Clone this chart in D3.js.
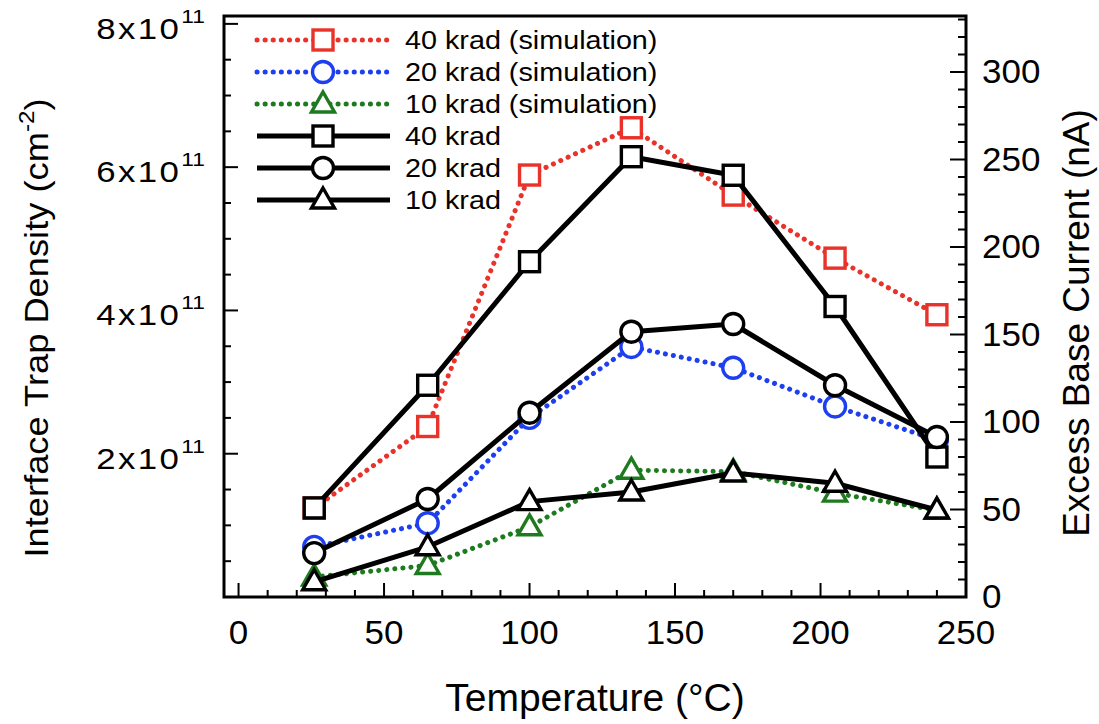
<!DOCTYPE html>
<html>
<head>
<meta charset="utf-8">
<script src="https://cdn.jsdelivr.net/npm/d3@7"></script>
<style>
  html, body { margin: 0; padding: 0; background: #fff; }
  svg { display: block; }
  text { font-family: "Liberation Sans", Arial, Helvetica, sans-serif; fill: #000; }
</style>
</head>
<body>
<svg id="chart" width="1099" height="724"></svg>
<script>
// ---- data ----
const temperature = [26, 65, 100, 135, 170, 205, 240];
// simulation: interface trap density (units of 1e11 cm^-2), left axis
const sim40 = [1.24, 2.38, 5.89, 6.55, 5.61, 4.73, 3.94];
const sim20 = [0.70, 1.03, 2.50, 3.49, 3.20, 2.66, 2.19];
const sim10 = [0.28, 0.44, 0.98, 1.77, 1.75, 1.45, 1.21];
// measured: excess base current (nA), right axis
const meas40 = [50.9, 121, 191.6, 251.6, 241, 166, 80];
const meas20 = [25.1, 56, 105.3, 151.6, 156, 121, 91.4];
const meas10 = [8.7, 28.7, 54.5, 60, 70.9, 65, 49.7];

const xTicks = [0, 50, 100, 150, 200, 250];
const leftTicks = [2, 4, 6, 8];           // x10^11
const rightTicks = [0, 50, 100, 150, 200, 250, 300];
const legendLabels = ["40 krad (simulation)", "20 krad (simulation)", "10 krad (simulation)", "40 krad", "20 krad", "10 krad"];

// ---- layout ----
const svg = d3.select("#chart");
const L = 224, R = 966, T = 16, B = 597;

const x = d3.scaleLinear().domain([-5, 250]).range([L, R]);
const yL = d3.scaleLinear().domain([0, 8.11]).range([B, T]);
const yR = d3.scaleLinear().domain([0, 332]).range([B, T]);

const RED = "#e8322a", BLUE = "#1d3ff0", GREEN = "#1e7a1e";

// text helper: positioned via transform, optional rotation and horizontal stretch
function addText(px, py, opts) {
  const rot = opts.rotate ? ` rotate(${opts.rotate})` : "";
  const sx = opts.sx || 1;
  return svg.append("text")
    .attr("transform", `translate(${px},${py})${rot} scale(${sx},1)`)
    .attr("text-anchor", opts.anchor || "start")
    .attr("font-size", opts.size);
}

// ---- ticks ----
const tickG = svg.append("g").attr("stroke", "#000").attr("stroke-width", 2);
d3.range(0, 251, 10).forEach(v => {
  const major = v % 50 === 0;
  tickG.append("line").attr("x1", x(v)).attr("x2", x(v)).attr("y1", B).attr("y2", B - (major ? 14 : 7));
});
d3.range(0, 8.01, 0.5).forEach(v => {
  const major = Math.abs(v % 2) < 1e-9;
  tickG.append("line").attr("x1", L).attr("x2", L + (major ? 14 : 7)).attr("y1", yL(v)).attr("y2", yL(v));
});
d3.range(0, 331, 10).forEach(v => {
  const major = v % 50 === 0;
  tickG.append("line").attr("x1", R).attr("x2", R - (major ? 16 : 8)).attr("y1", yR(v)).attr("y2", yR(v));
});

// ---- frame ----
svg.append("rect").attr("x", L).attr("y", T).attr("width", R - L).attr("height", B - T)
  .attr("fill", "none").attr("stroke", "#000").attr("stroke-width", 3);

// ---- tick labels ----
xTicks.forEach(v => {
  addText(x(v), B + 47, { size: 33, sx: 1.06, anchor: "middle" }).text(v);
});
leftTicks.forEach(v => {
  const t = addText(L - 19, yL(v) + 15, { size: 29, sx: 1.2, anchor: "end" });
  t.append("tspan").attr("letter-spacing", 2).text(v + "x10");
  t.append("tspan").attr("font-size", 19).attr("dy", -16).text("11");
});
rightTicks.forEach(v => {
  addText(R + 16, yR(v) + 11, { size: 33, sx: 1.06, anchor: "start" }).text(v);
});

// ---- axis titles ----
addText((L + R) / 2, 711, { size: 39, anchor: "middle" }).text("Temperature (°C)");
const lt = addText(48, 328, { size: 33, sx: 1.1, rotate: -90, anchor: "middle" });
lt.append("tspan").text("Interface Trap Density (cm");
lt.append("tspan").attr("font-size", 22).attr("dy", -14).text("-2");
lt.append("tspan").attr("dy", 14).text(")");
addText(1089, 323, { size: 37, rotate: -90, anchor: "middle" }).text("Excess Base Current (nA)");

// ---- series ----
const series = [
  { vals: sim40, y: yL, color: RED, dotted: true, shape: "square" },
  { vals: sim20, y: yL, color: BLUE, dotted: true, shape: "circle" },
  { vals: sim10, y: yL, color: GREEN, dotted: true, shape: "triangle" },
  { vals: meas40, y: yR, color: "#000", dotted: false, shape: "square" },
  { vals: meas20, y: yR, color: "#000", dotted: false, shape: "circle" },
  { vals: meas10, y: yR, color: "#000", dotted: false, shape: "triangle" }
];

function drawMarker(g, shape, cx, cy, color) {
  if (shape === "square") {
    g.append("rect").attr("x", cx - 10).attr("y", cy - 10).attr("width", 20).attr("height", 20)
      .attr("fill", "#fff").attr("stroke", color).attr("stroke-width", 3.4);
  } else if (shape === "circle") {
    g.append("circle").attr("cx", cx).attr("cy", cy).attr("r", 10.5)
      .attr("fill", "#fff").attr("stroke", color).attr("stroke-width", 3.4);
  } else {
    const h = 20, w = 23;
    g.append("path").attr("d", `M${cx},${cy - h * 0.6}L${cx + w / 2},${cy + h * 0.4}L${cx - w / 2},${cy + h * 0.4}Z`)
      .attr("fill", "#fff").attr("stroke", color).attr("stroke-width", 3.4).attr("stroke-linejoin", "miter");
  }
}

function styleLine(sel, s) {
  sel.attr("fill", "none").attr("stroke", s.color);
  if (s.dotted) {
    sel.attr("stroke-width", 5).attr("stroke-dasharray", "0.1 8").attr("stroke-linecap", "round");
  } else {
    sel.attr("stroke-width", 5).attr("stroke-linejoin", "round");
  }
}

series.forEach(s => {
  const g = svg.append("g");
  const line = d3.line().x((d, i) => x(temperature[i])).y(d => s.y(d));
  styleLine(g.append("path").attr("d", line(s.vals)), s);
  s.vals.forEach((v, i) => drawMarker(g, s.shape, x(temperature[i]), s.y(v), s.color));
});

// ---- legend ----
const lg = svg.append("g");
const rowY0 = 40, rowStep = 32;
series.forEach((s, i) => {
  const yy = rowY0 + i * rowStep;
  const p = lg.append("path").attr("d", d3.line()([[257, yy], [390, yy]]));
  styleLine(p, s);
  drawMarker(lg, s.shape, 323, yy, s.color);
  addText(405, yy + 9, { size: 25, sx: 1.15, anchor: "start" }).text(legendLabels[i]);
});
</script>
</body>
</html>
